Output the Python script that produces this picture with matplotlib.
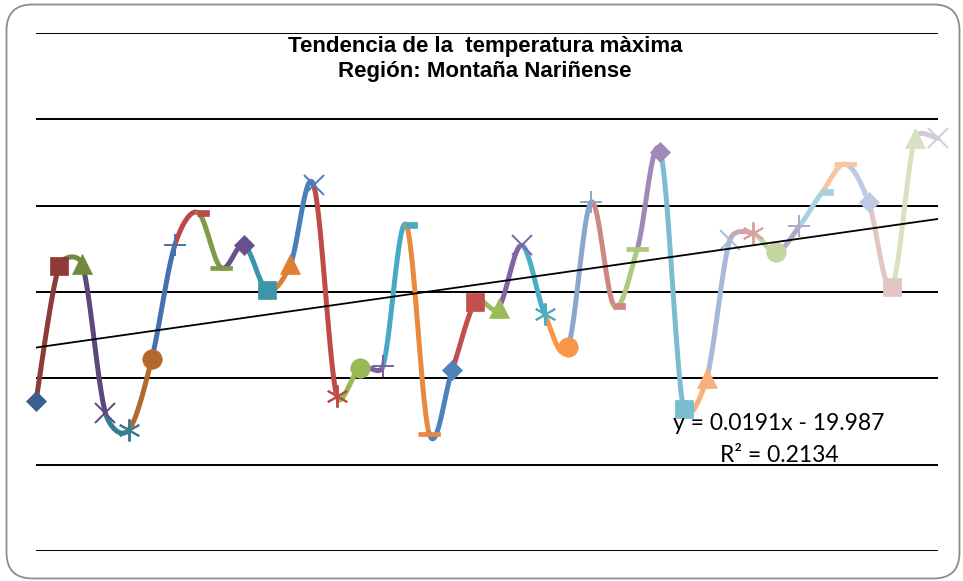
import numpy as np
import matplotlib
matplotlib.use("Agg")
import matplotlib.pyplot as plt
from matplotlib.patches import FancyBboxPatch

# ---- data ----
years = list(range(1972, 2012))
tmax = [17.37, 18.15, 18.16, 17.30, 17.20, 17.61, 18.27, 18.46, 18.14, 18.27,
        18.01, 18.16, 18.62, 17.40, 17.56, 17.57, 18.39, 17.18, 17.55, 17.94,
        17.91, 18.27, 17.87, 17.68, 18.52, 17.92, 18.25, 18.81, 17.32, 17.50,
        18.30, 18.34, 18.23, 18.38, 18.58, 18.74, 18.52, 18.03, 18.89, 18.89]
point_colors = ["#3B5E8C", "#8E3A38", "#71893F", "#5D487A", "#357D91", "#B4692C",
                "#4472B0", "#B94A48", "#7F9A48", "#6A4F8E", "#3D95AB", "#DE7F33",
                "#4A7EBB", "#BE4B48", "#98B954", "#7D5FA0", "#46AAC5", "#E8893E",
                "#4F81BD", "#C0504D", "#9BBB59", "#8064A2", "#4BACC6", "#F79646",
                "#8AA5CE", "#CF8784", "#AFC97E", "#9D8AB8", "#7BBDD0", "#F9AF7A",
                "#A7B9DB", "#D9A2A1", "#C3D6A0", "#B2A6C9", "#A4D2DE", "#FAC4A0",
                "#BCCBE3", "#E3C5C4", "#D6E3C2", "#D2CBDF"]
trend_slope = 0.0191
trend_intercept = -19.987
title = "Tendencia de la  temperatura màxima\nRegión: Montaña Nariñense"
eq_text = "y = 0.0191x - 19.987"
r2_text = "R² = 0.2134"

W, H = 963, 581
fig = plt.figure(figsize=(W / 100, H / 100), dpi=100)

# background frame axes (pixel coords)
bg = fig.add_axes([0, 0, 1, 1])
bg.set_xlim(0, W)
bg.set_ylim(H, 0)
bg.axis("off")
bg.add_patch(FancyBboxPatch((6.5, 4.5), 953, 574, boxstyle="round,pad=0,rounding_size=26",
                            fc="white", ec="#8C8C8C", lw=1.3))

L, R, T, B = 36, 938, 33, 551
ax = fig.add_axes([L / W, 1 - B / H, (R - L) / W, (B - T) / H])
ax.set_xlim(years[0], years[-1])
ax.set_ylim(16.5, 19.5)
ax.patch.set_alpha(0)
for s in ax.spines.values():
    s.set_visible(False)
ax.set_xticks([])
ax.set_yticks([])
for g in np.arange(16.5, 19.51, 0.5):
    ax.axhline(g, color="black", lw=1.4, zorder=1)

# smoothed segments (Excel-like Bezier, computed in display space)
fig.canvas.draw()
trans = ax.transData
inv = trans.inverted()
P = trans.transform(np.column_stack([years, tmax]))
n = len(P)
t = np.linspace(0, 1, 50)[:, None]
fwd = []
bwd = []
for i in range(n):
    pm = P[max(i - 1, 0)]
    pp = P[min(i + 1, n - 1)]
    d = pp - pm
    d02 = np.hypot(*d)
    if d02 == 0:
        fwd.append(P[i]); bwd.append(P[i]); continue
    u = d / d02
    d01 = np.hypot(*(P[i] - pm))
    d12 = np.hypot(*(pp - P[i]))
    kf = min(d02 / 6, d12 / 2)
    kb = min(d02 / 6, d01 / 2)
    fwd.append(P[i] + u * kf)
    bwd.append(P[i] - u * kb)
for i in range(n - 1):
    p0, p1, p2, p3 = P[i], fwd[i], bwd[i + 1], P[i + 1]
    b = (1 - t) ** 3 * p0 + 3 * (1 - t) ** 2 * t * p1 + 3 * (1 - t) * t ** 2 * p2 + t ** 3 * p3
    bd = inv.transform(b)
    ax.plot(bd[:, 0], bd[:, 1], color=point_colors[i + 1], lw=3.6, solid_capstyle="round",
            zorder=3, clip_on=False)

# markers
short_dash = [(-0.1, -0.27), (1, -0.27), (1, 0.27), (-0.1, 0.27)]
long_dash = [(-1, -0.22), (1, -0.22), (1, 0.22), (-1, 0.22)]
cycle = [("D", 10, "fill"), ("s", 13, "fill"), ("^", 14, "fill"), ("x", 14, "line"),
         ((6, 2, 0), 16, "line"), ("o", 14, "fill"), ("+", 16, "line"),
         (short_dash, 16, "fill"), (long_dash, 16, "fill")]
for i in range(n):
    m, ms, kind = cycle[i % 9]
    c = point_colors[i]
    if kind == "fill":
        ax.plot(years[i], tmax[i], marker=m, ms=ms, mfc=c, mec=c, mew=0.5, ls="none", zorder=4, clip_on=False)
    else:
        ax.plot(years[i], tmax[i], marker=m, ms=ms, mfc="none", mec=c, mew=1.4, ls="none", zorder=4, clip_on=False)

# trend line
xt = np.array([years[0], years[-1]], dtype=float)
ax.plot(xt, trend_slope * xt + trend_intercept, color="black", lw=1.3, zorder=5)

# texts
fig.text(485 / W, 1 - 59 / H, title, ha="center", va="center", fontsize=16, fontweight="bold",
         family=["Liberation Sans"], linespacing=1.3, zorder=10,
         bbox=dict(fc="white", ec="none", pad=1.5))
fig.text(779 / W, 1 - 423 / H, eq_text, ha="center", va="center", fontsize=16.5, family=["Lato", "DejaVu Sans"], zorder=6)
fig.text(779 / W, 1 - 455 / H, r2_text, ha="center", va="center", fontsize=16.5, family=["Lato", "DejaVu Sans"], zorder=6)

fig.savefig("out.png", dpi=100)
